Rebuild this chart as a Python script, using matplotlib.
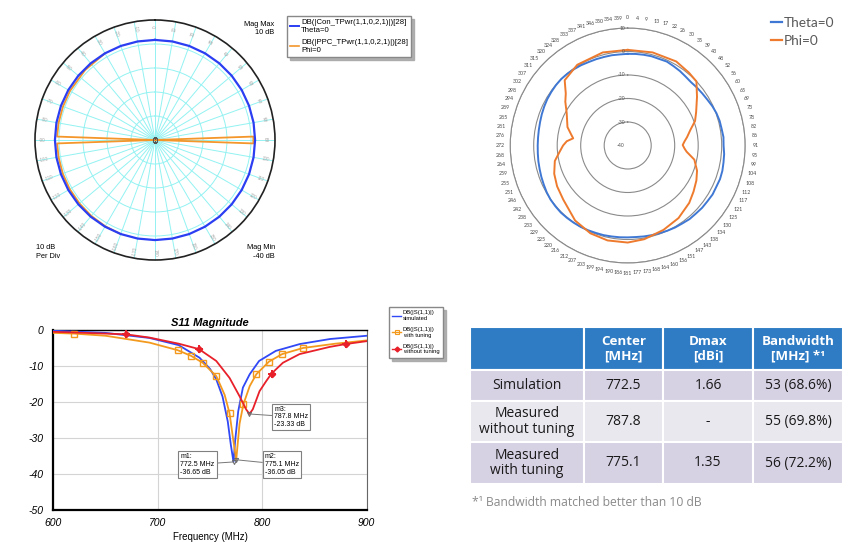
import numpy as np
import matplotlib.pyplot as plt
from matplotlib.lines import Line2D
from matplotlib.patches import Rectangle
import matplotlib.transforms as mtransforms

# ---- top-left polar (simulated pattern, dB) ----
tl_theta_ang = list(range(0, 361, 10))
tl_theta_db = [1.7] * 37
tl_phi_ang = [-30, -45, -60, -70, -80, -88, -88, 88, 88, 92, 92, -92, -92,
              -100, -110, -120, -130, -140, -150, -160]
tl_phi_db = [1.7, 1.2, 0.9, 0.8, 0.8, 0.8, -40, -40, 1.0, 1.0, -40, -40, 0.8,
             0.8, 0.9, 1.0, 1.1, 1.3, 1.5, 1.7]
tl_labels = list(range(-170, 181, 10))

# ---- top-right polar (measured pattern, dB) ----
tr_theta_ang = list(range(0, 361, 5))
tr_theta_db = [-1.0, -0.9, -0.8, -0.7, -0.8, -0.6, -1.0, -1.3, -1.7, -1.9,
               -1.6, -1.3, -0.9, -0.3, 0.2, 0.5, 0.6, 0.9, 0.8, 1.2,
               1.4, 1.7, 1.8, 1.6, 1.7, 1.4, 1.3, 1.0, 0.9, 0.5,
               0.3, 0.0, -0.3, -0.5, -0.7, -0.9, -0.9, -0.8, -0.7, -0.5,
               -0.4, -0.2, 0.0, 0.1, 0.2, 0.3, 0.2, 0.1, -0.2, -0.6,
               -0.9, -1.2, -1.4, -1.6, -1.7, -1.7, -1.6, -1.4, -1.1, -0.8,
               -0.5, -0.3, -0.1, 0.0, -0.1, -0.3, -0.5, -0.8, -0.9, -1.0,
               -1.0, -1.1, -1.0]
tr_phi_ang = [0, 15, 30, 40, 47, 55, 64, 70, 76, 82, 86, 89.5, 93, 96, 102,
              110, 117, 125, 133, 145, 157, 170, 180, 192, 203, 215, 230,
              240, 249, 258, 265, 270, 274, 277.5, 281, 287, 298, 305, 310,
              316, 328, 345, 360]
tr_phi_db = [0.7, 1.0, 1.3, 0.5, 0.0, -4.0, -7.6, -9.5, -12.5, -14.5, -15.8,
             -16.6, -15.8, -14.8, -11.0, -8.6, -7.2, -5.8, -4.2, -2.3, -1.0,
             0.5, 1.3, 1.3, 0.6, -1.0, -4.2, -5.3, -6.5, -8.3, -11.0, -12.5,
             -14.0, -16.6, -15.5, -13.2, -10.6, -7.6, -5.6, -1.4, 0.5, 1.0,
             0.7]
tr_ticks = [0, 4, 9, 13, 17, 22, 26, 30, 35, 39, 43, 48, 52, 56, 60, 65, 69,
            73, 78, 82, 86, 91, 95, 99, 104, 108, 112, 117, 121, 125, 130, 134,
            138, 143, 147, 151, 156, 160, 164, 168, 173, 177, 181, 186, 190,
            194, 199, 203, 207, 212, 216, 220, 225, 229, 233, 238, 242, 246,
            251, 255, 259, 264, 268, 272, 276, 281, 285, 289, 294, 298, 302,
            307, 311, 315, 320, 324, 328, 333, 337, 341, 346, 350, 354, 359]
tr_rings = [10, 0, -10, -20, -30, -40]

# ---- S11 magnitude ----
sim_f = [600, 650, 692, 720, 740, 750, 756, 762, 767, 770, 772.5, 774, 777,
         781.5, 788, 797, 813, 836, 865, 900]
sim_db = [-0.2, -0.8, -2.2, -4.2, -7.7, -10.8, -13.7, -18.5, -25.4, -32.0,
          -36.65, -31.0, -22.6, -16.0, -12.3, -8.6, -5.8, -3.9, -2.5, -1.6]
tun_f = [600, 620, 650, 692, 719, 732, 743, 756, 764, 768.7, 772, 775.1,
         778.3, 782, 788, 794.3, 806.4, 819, 839, 870, 900]
tun_db = [-0.8, -1.0, -1.6, -3.5, -5.6, -7.2, -9.1, -12.8, -18.0, -23.1,
          -30.0, -36.05, -26.0, -20.6, -15.6, -12.3, -8.8, -6.7, -5.0, -3.8,
          -2.9]
tun_marks = [1, 4, 5, 6, 7, 9, 13, 15, 16, 17, 18]
unt_f = [600, 640, 669.6, 692, 720, 739.4, 756, 768.7, 778.3, 784.7, 787.8,
         791, 797.4, 803.8, 808.9, 819.8, 835.7, 864.5, 880, 900]
unt_db = [-0.5, -0.9, -1.2, -2.1, -3.8, -5.3, -8.6, -13.3, -18.4, -22.1,
          -23.33, -22.0, -17.0, -14.2, -12.1, -9.1, -6.7, -4.7, -3.9, -3.1]
unt_marks = [2, 5, 14, 18]
mk_names = ['m1', 'm2', 'm3']
mk_f = [772.5, 775.1, 787.8]
mk_db = [-36.65, -36.05, -23.33]

# ---- table ----
tab_head = ['', 'Center\n[MHz]', 'Dmax\n[dBi]', 'Bandwidth\n[MHz] *¹']
tab_rows = ['Simulation', 'Measured\nwithout tuning', 'Measured\nwith tuning']
tab_center = ['772.5', '787.8', '775.1']
tab_dmax = ['1.66', '-', '1.35']
tab_bw = ['53 (68.6%)', '55 (69.8%)', '56 (72.2%)']

W, H = 850, 542
plt.rcParams['font.family'] = 'Liberation Sans'
plt.rcParams['axes.unicode_minus'] = False
fig = plt.figure(figsize=(8.5, 5.42), dpi=100)
shadow = {'facecolor': '#a8a8a8', 'edgecolor': '#a8a8a8', 'alpha': 0.9}


def box(l, t, r, b):
    return [l / W, 1 - b / H, (r - l) / W, (b - t) / H]


def fx(x):
    return x / W


def fy(y):
    return 1 - y / H


# top-left polar
ax1 = fig.add_axes(box(35, 20, 275, 260), projection='polar')
ax1.set_theta_zero_location('N')
ax1.set_theta_direction(-1)
ax1.set_ylim(-40, 10)
ax1.set_yticks([-30, -20, -10, 0])
ax1.set_yticklabels([])
ax1.set_xticks(np.radians(np.arange(0, 360, 10)))
ax1.set_xticklabels([])
ax1.tick_params(length=0)
ax1.grid(color='#93f2f2', lw=0.7)
ax1.spines['polar'].set_color('#222222')
ax1.spines['polar'].set_linewidth(1.2)
ax1.plot(np.radians(tl_phi_ang), tl_phi_db, color='#f4962a', lw=1.3)
ax1.plot(np.radians(tl_theta_ang), tl_theta_db, color='#2b3ef2', lw=1.6)
ax1.plot(0, -40, marker='s', ms=2.5, mfc='none', mec='#555555', mew=0.8)
for a in tl_labels:
    rot = 90 - a if a >= 0 else -90 - a
    ax1.text(np.radians(a), 7, str(a), rotation=rot, ha='center', va='center',
             fontsize=3.3, color='#a8a8a8', rotation_mode='anchor')

fig.text(fx(274), fy(21), 'Mag Max\n10 dB', ha='right', va='top', fontsize=5.3,
         linespacing=1.3)
fig.text(fx(36), fy(244), '10 dB\nPer Div', ha='left', va='top', fontsize=5.3,
         linespacing=1.3)
fig.text(fx(275), fy(244), 'Mag Min\n-40 dB', ha='right', va='top', fontsize=5.3,
         linespacing=1.3)
fig.legend([Line2D([], [], color='#2b3ef2', lw=1.4),
            Line2D([], [], color='#f4962a', lw=1.2)],
           ['DB(|Con_TPwr(1,1,0,2,1)|)[28]\nTheta=0',
            'DB(|PPC_TPwr(1,1,0,2,1)|)[28]\nPhi=0'],
           loc='upper left', bbox_to_anchor=(fx(283), fy(12)), fontsize=5.6,
           handlelength=1.1, handletextpad=0.3, borderpad=0.4,
           labelspacing=0.6, fancybox=False, shadow=shadow,
           edgecolor='#888888', framealpha=1)

# top-right polar
ax2 = fig.add_axes(box(510.2, 28, 745.2, 263), projection='polar')
ax2.set_theta_zero_location('N')
ax2.set_theta_direction(-1)
ax2.set_ylim(-40, 10)
ax2.set_yticks([-30, -20, -10, 0, 10])
ax2.set_yticklabels([])
ax2.set_xticks(np.arange(len(tr_ticks)) * 2 * np.pi / len(tr_ticks))
ax2.set_xticklabels([str(t) for t in tr_ticks], fontsize=3.8, color='#4a4a4a',
                    family='Lato')
ax2.tick_params(axis='x', length=0, pad=0.3)
ax2.xaxis.grid(False)
ax2.yaxis.grid(True, color='#8a8a8a', lw=0.8)
ax2.spines['polar'].set_color('#8a8a8a')
ax2.spines['polar'].set_linewidth(0.8)
ax2.plot(np.radians(tr_theta_ang), tr_theta_db, color='#3f78d4', lw=1.4)
ax2.plot(np.radians(tr_phi_ang), tr_phi_db, color='#ee7a2e', lw=1.4)
shift = mtransforms.ScaledTranslation(-2 / 72, 0, fig.dpi_scale_trans)
for v in tr_rings:
    ax2.text(0, v, str(v), transform=ax2.transData + shift, ha='right',
             va='center', fontsize=3.6, color='#555555', family='Lato')
fig.legend([Line2D([], [], color='#3f78d4', lw=1.6),
            Line2D([], [], color='#ee7a2e', lw=1.6)],
           ['Theta=0', 'Phi=0'], loc='upper left',
           bbox_to_anchor=(fx(759), fy(5)), frameon=False,
           prop={'family': 'Lato', 'size': 9.8}, labelcolor='#595959',
           handlelength=0.8, handletextpad=0.15, labelspacing=0.4)

# S11 plot
ax3 = fig.add_axes(box(53.3, 330, 366.7, 510))
ax3.plot(sim_f, sim_db, color='#3048f5', lw=1.3, zorder=3)
ax3.plot(tun_f, tun_db, color='#f39a1e', lw=1.3, marker='s',
         markevery=tun_marks, ms=4.2, mfc='none', mec='#f39a1e', mew=1.0,
         zorder=3)
ax3.plot(unt_f, unt_db, color='#e8202a', lw=1.3, zorder=3)
ax3.plot([unt_f[i] for i in unt_marks], [unt_db[i] for i in unt_marks],
         ls='none', marker='D', ms=3.2, color='#e8202a', zorder=4)
ax3.plot([unt_f[i] for i in unt_marks], [unt_db[i] for i in unt_marks],
         ls='none', marker='+', ms=6, mew=1.4, color='#e8202a', zorder=4)
ax3.plot(mk_f, mk_db, ls='none', marker='v', ms=3, mfc='none', mec='#666666',
         mew=0.7, zorder=5)
box_xy = [(721.5, -34.2), (802.5, -34.2), (811.5, -21.0)]
for name, f, v, xy in zip(mk_names, mk_f, mk_db, box_xy):
    ax3.annotate(f'{name}:\n{f} MHz\n{v:.2f} dB', xy=(f, v), xytext=xy,
                 ha='left', va='top', fontsize=5, linespacing=1.15,
                 bbox=dict(boxstyle='square,pad=0.3', fc='white', ec='#808080',
                           lw=0.8),
                 arrowprops=dict(arrowstyle='-', color='#777777', lw=0.7,
                                 shrinkA=0, shrinkB=0), zorder=6)
ax3.set_xlim(600, 900)
ax3.set_ylim(-50, 0)
ax3.set_xticks([600, 700, 800, 900])
ax3.set_yticks([0, -10, -20, -30, -40, -50])
for lab in ax3.get_xticklabels() + ax3.get_yticklabels():
    lab.set_fontstyle('italic')
    lab.set_fontsize(7.5)
ax3.tick_params(length=0)
ax3.tick_params(axis='x', pad=6)
ax3.tick_params(axis='y', pad=7)
ax3.grid(color='#d4d4d4', lw=0.8)
ax3.set_axisbelow(True)
for s in ['left', 'bottom']:
    ax3.spines[s].set_linewidth(1.6)
    ax3.spines[s].set_color('black')
ax3.spines['top'].set_linewidth(1.0)
ax3.spines['right'].set_linewidth(0.8)
ax3.spines['right'].set_color('#666666')
ax3.set_title('S11 Magnitude', fontsize=8, fontweight='bold', fontstyle='italic',
              pad=3)
ax3.set_xlabel('Frequency (MHz)', fontsize=7, labelpad=3)
fig.legend([Line2D([], [], color='#3048f5', lw=1.0),
            Line2D([], [], color='#f39a1e', lw=1.0, marker='s', ms=3,
                   mfc='none', mew=0.8),
            Line2D([], [], color='#e8202a', lw=1.0, marker='D', ms=2.5)],
           ['DB(|S(1,1)|)\nsimulated', 'DB(|S(1,1)|)\nwith tuning',
            'DB(|S(1,1)|)\nwithout tuning'],
           loc='upper left', bbox_to_anchor=(fx(386), fy(304)), fontsize=4.2,
           handlelength=1.5, handletextpad=0.3, borderpad=0.6,
           labelspacing=1.0, fancybox=False, shadow=shadow,
           edgecolor='#888888', framealpha=1)

# table
axt = fig.add_axes(box(470, 327, 843, 484))
axt.set_xlim(0, 373)
axt.set_ylim(157, 0)
axt.axis('off')
col_w = [114, 79, 90, 90]
row_h = [43, 31, 41, 42]
row_col = ['#2f7cc5', '#d7d1e4', '#e9e8ef', '#d7d1e4']
cells = [tab_head] + [list(r) for r in zip(tab_rows, tab_center, tab_dmax, tab_bw)]
y0 = 0
for i, h in enumerate(row_h):
    x0 = 0
    for j, w in enumerate(col_w):
        axt.add_patch(Rectangle((x0, y0), w, h, fc=row_col[i], ec='white',
                                lw=1.5))
        if i == 0:
            axt.text(x0 + w / 2, y0 + h / 2, cells[i][j], ha='center',
                     va='center', color='white', fontsize=9.6, fontweight='bold',
                     family='Open Sans', linespacing=1.1)
        else:
            axt.text(x0 + w / 2, y0 + h / 2, cells[i][j], ha='center',
                     va='center', color='#1a1a1a', fontsize=10,
                     family='Open Sans', linespacing=1.05)
        x0 += w
    y0 += h
fig.text(fx(472), fy(503), '*¹ Bandwidth matched better than 10 dB',
         fontsize=8.7, color='#8a8a8a', va='center', family='Open Sans')

fig.savefig('out.png', dpi=100)
